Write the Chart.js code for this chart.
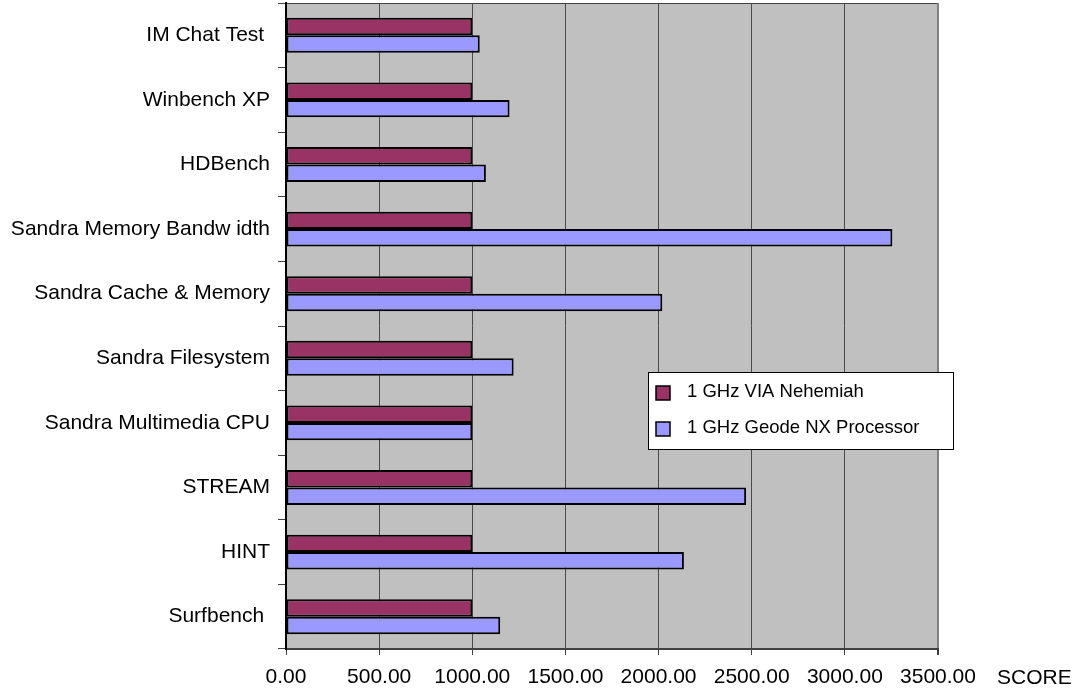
<!DOCTYPE html>
<html>
<head>
<meta charset="utf-8">
<title>Benchmark scores</title>
<script src="https://cdn.jsdelivr.net/npm/chart.js@4/dist/chart.umd.min.js"></script>
<style>
    body { margin: 0; background: #ffffff; }
    #chart { display: block; }
</style>
</head>
<body>
<canvas id="chart" width="1082" height="692"></canvas>
<script>
// Benchmark names (trailing spaces kept as in the original labels)
const benchmarks = [
    'IM Chat Test ',
    'Winbench XP',
    'HDBench',
    'Sandra Memory Bandw idth',
    'Sandra Cache & Memory',
    'Sandra Filesystem',
    'Sandra Multimedia CPU',
    'STREAM',
    'HINT',
    'Surfbench '
];

// Scores, VIA normalised to 1000
const viaScores = [1000, 1000, 1000, 1000, 1000, 1000, 1000, 1000, 1000, 1000];
const geodeScores = [1040, 1200, 1073, 3255, 2020, 1222, 1000, 2470, 2136, 1150];

const seriesNames = ['1 GHz VIA Nehemiah', '1 GHz Geode NX Processor'];
const seriesColors = ['#993366', '#9999FF'];

const xTicks = [0, 500, 1000, 1500, 2000, 2500, 3000, 3500];
const xTitle = 'SCORE';

const FONT = '"Liberation Sans", Arial, sans-serif';

// Gray plot background + top border
const plotBackground = {
    id: 'plotBackground',
    beforeDraw(chart) {
        const { ctx, chartArea: a } = chart;
        ctx.save();
        ctx.fillStyle = '#C0C0C0';
        ctx.fillRect(a.left, a.top, a.right - a.left, a.bottom - a.top);
        ctx.strokeStyle = '#404040';
        ctx.lineWidth = 1;
        ctx.beginPath();
        ctx.moveTo(a.left, a.top + 0.5);
        ctx.lineTo(a.right, a.top + 0.5);
        ctx.stroke();
        ctx.restore();
    }
};

// Boxed legend inside the plot + axis title on the right
const boxLegend = {
    id: 'boxLegend',
    afterDraw(chart) {
        const ctx = chart.ctx;
        ctx.save();
        ctx.fillStyle = '#ffffff';
        ctx.fillRect(648, 372, 305, 77);
        ctx.strokeStyle = '#000000';
        ctx.lineWidth = 1;
        ctx.strokeRect(648.5, 372.5, 305, 77);

        ctx.font = '18.5px ' + FONT;
        ctx.textBaseline = 'middle';
        ctx.textAlign = 'left';
        chart.data.datasets.forEach((ds, i) => {
            const y = 392 + i * 36;
            ctx.fillStyle = ds.backgroundColor;
            ctx.fillRect(656, y - 6, 14, 14);
            ctx.lineWidth = 1.5;
            ctx.strokeStyle = '#000000';
            ctx.strokeRect(656, y - 6, 14, 14);
            ctx.fillStyle = '#000000';
            ctx.fillText(ds.label, 687, y);
        });

        ctx.font = '21px ' + FONT;
        ctx.fillText(xTitle, 997, 678);
        ctx.restore();
    }
};

new Chart(document.getElementById('chart'), {
    type: 'bar',
    data: {
        labels: benchmarks,
        datasets: [
            {
                label: seriesNames[0],
                data: viaScores,
                backgroundColor: seriesColors[0]
            },
            {
                label: seriesNames[1],
                data: geodeScores,
                backgroundColor: seriesColors[1]
            }
        ]
    },
    options: {
        indexAxis: 'y',
        responsive: false,
        animation: false,
        layout: {
            padding: { top: 3, right: 144, left: 0, bottom: 0 }
        },
        datasets: {
            bar: {
                borderColor: '#000000',
                borderWidth: 2,
                borderSkipped: false,
                barPercentage: 1,
                categoryPercentage: 0.54
            }
        },
        plugins: {
            legend: { display: false },
            tooltip: { enabled: false }
        },
        scales: {
            x: {
                min: 0,
                max: 3500,
                afterBuildTicks(scale) {
                    scale.ticks = xTicks.map(v => ({ value: v }));
                },
                afterFit(scale) { scale.height = 43; },
                grid: {
                    color: ctx => (ctx.tick && ctx.tick.value === 3500) ? '#808080' : '#4a4a4a',
                    lineWidth: ctx => (ctx.tick && ctx.tick.value === 3500) ? 2 : 1,
                    tickLength: 6,
                    tickColor: '#404040'
                },
                border: { color: '#404040', width: 2 },
                ticks: {
                    color: '#000000',
                    font: { family: FONT, size: 21 },
                    padding: 10,
                    maxRotation: 0,
                    callback: v => Number(v).toFixed(2)
                }
            },
            y: {
                afterFit(scale) {
                    scale.width = 286;
                    scale.paddingTop = 0;
                    scale.paddingBottom = 0;
                },
                grid: {
                    drawOnChartArea: false,
                    offset: true,
                    tickLength: 8,
                    tickColor: '#404040'
                },
                border: { color: '#000000', width: 2 },
                ticks: {
                    color: '#000000',
                    font: { family: FONT, size: 21 },
                    padding: 8
                }
            }
        }
    },
    plugins: [plotBackground, boxLegend]
});
</script>
</body>
</html>
